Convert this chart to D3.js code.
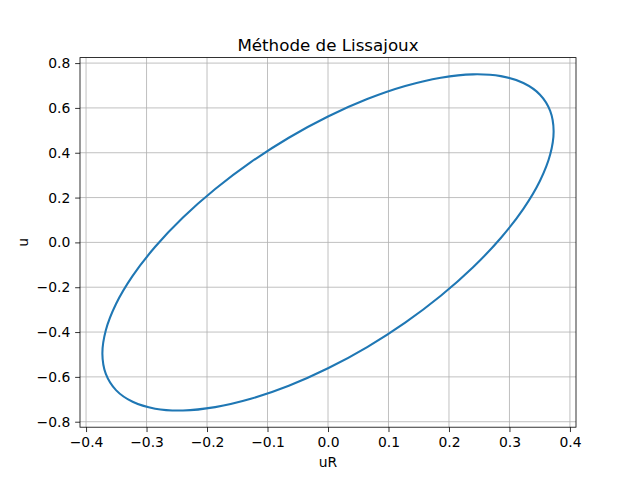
<!DOCTYPE html>
<html><head><meta charset="utf-8">
<script src="https://cdn.jsdelivr.net/npm/d3@7"></script>
<style>body{margin:0;background:#fff}svg{display:block}text{font-family:"DejaVu Sans",sans-serif;fill:#000}</style>
</head><body>
<svg id="c" width="640" height="480"></svg>
<script>
// Points (uR, u)
const uR = [0, 0.0648, 0.1276, 0.1865, 0.2398, 0.2857, 0.3230, 0.3505, 0.3673, 0.373, 0.3673, 0.3505,
            0.3230, 0.2857, 0.2398, 0.1865, 0.1276, 0.0648, 0, -0.0648, -0.1276, -0.1865, -0.2398, -0.2857,
            -0.3230, -0.3505, -0.3673, -0.373, -0.3673, -0.3505, -0.3230, -0.2857, -0.2398, -0.1865, -0.1276, -0.0648];
const u = [0.5617, 0.6395, 0.6978, 0.7349, 0.7498, 0.7418, 0.7112, 0.6591, 0.5870, 0.4970, 0.3919, 0.2749,
           0.1495, 0.0196, -0.1109, -0.2380, -0.3579, -0.4669, -0.5617, -0.6395, -0.6978, -0.7349, -0.7498, -0.7418,
           -0.7112, -0.6591, -0.5870, -0.4970, -0.3919, -0.2749, -0.1495, -0.0196, 0.1109, 0.2380, 0.3579, 0.4669];
const xTicks = [-0.4, -0.3, -0.2, -0.1, 0.0, 0.1, 0.2, 0.3, 0.4];
const yTicks = [-0.8, -0.6, -0.4, -0.2, 0.0, 0.2, 0.4, 0.6, 0.8];
const title = "Méthode de Lissajoux", xLabel = "uR", yLabel = "u";

const L = 80, R = 576, T = 57.6, B = 427.2;
const svg = d3.select("#c");
const x = d3.scaleLinear().domain([-0.41, 0.41]).range([L, R]);
const y = d3.scaleLinear().domain([-0.8245, 0.8245]).range([B, T]);
const fmt = v => d3.format(".1f")(v).replace("-", "\u2212");

// grid
const g = svg.append("g");
g.selectAll(".gx").data(xTicks).enter().append("line")
  .attr("x1", d => x(d)).attr("x2", d => x(d)).attr("y1", T).attr("y2", B)
  .attr("stroke", "#b0b0b0").attr("stroke-width", 0.8);
g.selectAll(".gy").data(yTicks).enter().append("line")
  .attr("y1", d => y(d)).attr("y2", d => y(d)).attr("x1", L).attr("x2", R)
  .attr("stroke", "#b0b0b0").attr("stroke-width", 0.8);

// curve
const pts = uR.map((v, i) => [v, u[i]]);
svg.append("path").datum(pts)
  .attr("d", d3.line().x(d => x(d[0])).y(d => y(d[1])).curve(d3.curveCatmullRomClosed.alpha(0.5)))
  .attr("fill", "none").attr("stroke", "#1f77b4").attr("stroke-width", 2.08);

// axes
const xa = svg.append("g").attr("transform", `translate(0,${B})`)
  .call(d3.axisBottom(x).tickValues(xTicks).tickFormat(fmt).tickSize(4.86).tickPadding(4.9));
const ya = svg.append("g").attr("transform", `translate(${L},0)`)
  .call(d3.axisLeft(y).tickValues(yTicks).tickFormat(fmt).tickSize(4.86).tickPadding(4.9));
[xa, ya].forEach(a => {
  a.select(".domain").remove();
  a.selectAll(".tick line").attr("stroke", "#000").attr("stroke-width", 0.8);
  a.selectAll(".tick text").attr("font-size", "13.9px").attr("font-family", "DejaVu Sans").attr("fill", "#000");
});
svg.append("rect").attr("x", L).attr("y", T).attr("width", R - L).attr("height", B - T)
  .attr("fill", "none").attr("stroke", "#000").attr("stroke-width", 0.8);

// labels
svg.append("text").attr("x", (L + R) / 2).attr("y", 51).attr("text-anchor", "middle")
  .attr("font-size", "16.7px").text(title);
svg.append("text").attr("x", (L + R) / 2).attr("y", 467).attr("text-anchor", "middle")
  .attr("font-size", "13.9px").text(xLabel);
svg.append("text").attr("transform", `translate(28,${(T + B) / 2}) rotate(-90)`).attr("text-anchor", "middle")
  .attr("font-size", "13.9px").text(yLabel);
</script>
</body></html>
